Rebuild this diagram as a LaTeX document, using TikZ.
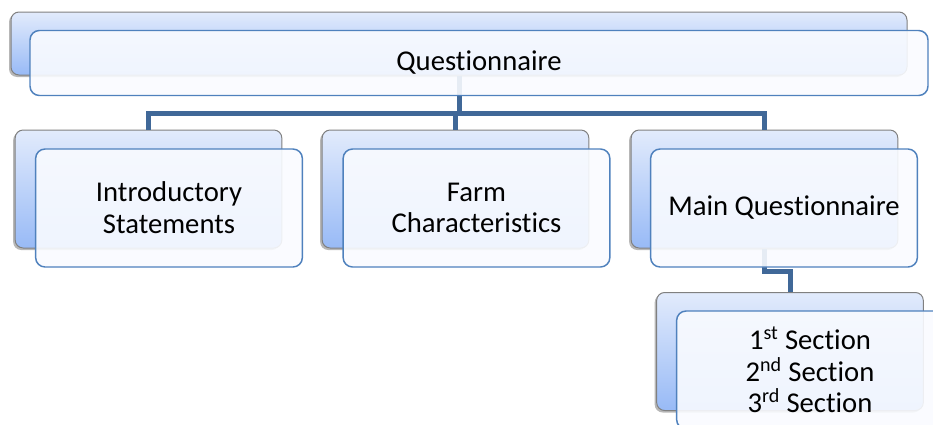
\documentclass[tikz,border=0pt]{standalone}
\usepackage{fontspec}
\setmainfont{Carlito}[Ligatures=CommonOff]
\usetikzlibrary{shadows}
\definecolor{linkblue}{RGB}{64,104,152}
\definecolor{frameblue}{RGB}{79,129,189}
\definecolor{backgray}{RGB}{128,128,128}
\definecolor{backtop}{RGB}{226,235,252}
\definecolor{backbottom}{RGB}{152,186,246}
\definecolor{frontfill}{RGB}{249,251,255}
\tikzset{
  backbox/.style={draw=backgray, line width=0.75pt, rounded corners=6pt,
    top color=backtop, bottom color=backbottom,
    drop shadow={shadow xshift=-1.5pt, shadow yshift=-1.5pt, opacity=0.4, fill=black!70}},
  frontbox/.style={draw=frameblue, line width=1.1pt, rounded corners=7pt,
    fill=frontfill, fill opacity=0.9, text opacity=1, align=center, inner sep=0pt,
    font=\fontsize{21.5}{23.8}\selectfont},
  rowsize/.style={minimum width=200pt, minimum height=88.5pt},
  link/.style={draw=linkblue, line width=3.75pt},
}

\begin{document}
\begin{tikzpicture}[x=0.75pt,y=0.75pt,yscale=-1,xscale=1]
\clip (0,0) rectangle (933,425);

%Shape: Rounded Rect (back layer)
\node [backbox, minimum width=672pt, minimum height=47.25pt] (quest-b) at (459,43.5) {};
\node [backbox, rowsize] (intro-b) at (148.5,189) {};
\node [backbox, rowsize] (farm-b) at (455.5,189) {};
\node [backbox, rowsize] (main-b) at (764.5,189) {};
\node [backbox, rowsize] (sect-b) at (790,351.5) {};

%Connectors
\draw [link] (quest-b.south) -- ++(0,38) -| (intro-b.north);
\draw [link] (quest-b.south) -- ++(0,38) -| (farm-b.north);
\draw [link] (quest-b.south) -- ++(0,38) -| (main-b.north);
\draw [link] (main-b.south) -- ++(0,22.5) -| (sect-b.north);

% Text Node
\node [frontbox, minimum width=673.5pt, minimum height=48.75pt] (quest) at (479,63) {Questionnaire};
% Text Node
\node [frontbox, rowsize] (intro) at (169,208) {Introductory\\Statements};
% Text Node
\node [frontbox, rowsize] (farm) at (476.5,208) {Farm\\Characteristics};
% Text Node
\node [frontbox, rowsize] (main) at (784,208) {Main Questionnaire};
% Text Node
\node [frontbox, rowsize] (sect) at (810,370) {1\textsuperscript{st} Section\\2\textsuperscript{nd} Section\\3\textsuperscript{rd} Section};

\end{tikzpicture}
\end{document}
